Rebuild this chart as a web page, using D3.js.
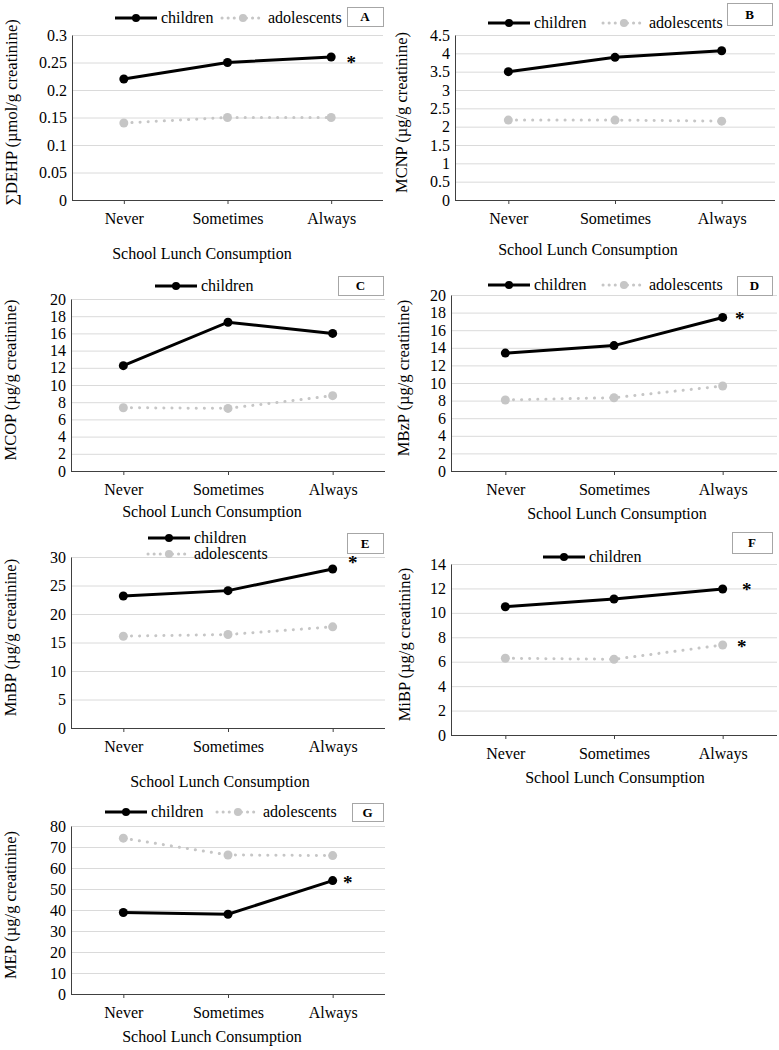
<!DOCTYPE html>
<html>
<head>
<meta charset="utf-8">
<script src="https://cdn.jsdelivr.net/npm/d3@7"></script>
<style>
  body { margin: 0; background: #fff; }
  text { font-family: "Liberation Serif", "Times New Roman", serif; fill: #000; }
</style>
</head>
<body>
<script>
var w = 779;
var h = 1050;

// data
var categories = ["Never", "Sometimes", "Always"];

var dehpChildren = [0.22, 0.25, 0.26];
var dehpAdolescents = [0.14, 0.15, 0.15];
var dehpTicks = [0, 0.05, 0.1, 0.15, 0.2, 0.25, 0.3];
var dehpStars = [0.256];

var mcnpChildren = [3.5, 3.89, 4.07];
var mcnpAdolescents = [2.18, 2.18, 2.15];
var mcnpTicks = [0, 0.5, 1, 1.5, 2, 2.5, 3, 3.5, 4, 4.5];
var mcnpStars = [];

var mcopChildren = [12.25, 17.3, 16.0];
var mcopAdolescents = [7.36, 7.28, 8.76];
var mcopTicks = [0, 2, 4, 6, 8, 10, 12, 14, 16, 18, 20];
var mcopStars = [];

var mbzpChildren = [13.4, 14.25, 17.45];
var mbzpAdolescents = [8.07, 8.33, 9.66];
var mbzpTicks = [0, 2, 4, 6, 8, 10, 12, 14, 16, 18, 20];
var mbzpStars = [17.7];

var mnbpChildren = [23.15, 24.1, 27.9];
var mnbpAdolescents = [16.1, 16.4, 17.75];
var mnbpTicks = [0, 5, 10, 15, 20, 25, 30];
var mnbpStars = [29.5];

var mibpChildren = [10.5, 11.13, 11.95];
var mibpAdolescents = [6.28, 6.2, 7.37];
var mibpTicks = [0, 2, 4, 6, 8, 10, 12, 14];
var mibpStars = [12.14, 7.5];

var mepChildren = [38.8, 38.0, 54.0];
var mepAdolescents = [74.2, 66.2, 65.9];
var mepTicks = [0, 10, 20, 30, 40, 50, 60, 70, 80];
var mepStars = [54.3];

// layout of each panel
var panels = [
  { letter: "A", title: "\u2211DEHP (\u00b5mol/g creatinine)", kids: dehpChildren, teens: dehpAdolescents, ticks: dehpTicks, stars: dehpStars,
    x0: 72, x1: 383, y0: 35, y1: 200, titleX: 17, xTitleX: 202, xTitleGap: 59, starDx: 20,
    legend: [{ s: "k", x: 115, y: 18 }, { s: "t", x: 222, y: 18 }], box: [347, 7, 36, 19] },
  { letter: "B", title: "MCNP (\u00b5g/g creatinine)", kids: mcnpChildren, teens: mcnpAdolescents, ticks: mcnpTicks, stars: mcnpStars,
    x0: 455, x1: 775, y0: 35, y1: 200, titleX: 407, xTitleX: 588, xTitleGap: 55, starDx: 20,
    legend: [{ s: "k", x: 488, y: 23 }, { s: "t", x: 603, y: 23 }], box: [727, 3, 45, 22] },
  { letter: "C", title: "MCOP (\u00b5g/g creatinine)", kids: mcopChildren, teens: mcopAdolescents, ticks: mcopTicks, stars: mcopStars,
    x0: 71, x1: 385, y0: 299, y1: 471, titleX: 16, xTitleX: 212, xTitleGap: 46, starDx: 20,
    legend: [{ s: "k", x: 155, y: 286 }], box: [338, 276, 45, 19] },
  { letter: "D", title: "MBzP (\u00b5g/g creatinine)", kids: mbzpChildren, teens: mbzpAdolescents, ticks: mbzpTicks, stars: mbzpStars,
    x0: 451, x1: 777, y0: 295, y1: 471, titleX: 409, xTitleX: 617, xTitleGap: 48, starDx: 17,
    legend: [{ s: "k", x: 488, y: 285 }, { s: "t", x: 603, y: 285 }], box: [737, 276, 35, 19] },
  { letter: "E", title: "MnBP (\u00b5g/g creatinine)", kids: mnbpChildren, teens: mnbpAdolescents, ticks: mnbpTicks, stars: mnbpStars,
    x0: 71, x1: 385, y0: 557, y1: 728, titleX: 16, xTitleX: 220, xTitleGap: 59, starDx: 20,
    legend: [{ s: "k", x: 148, y: 538 }, { s: "t", x: 148, y: 554 }], box: [347, 533, 36, 20] },
  { letter: "F", title: "MiBP (\u00b5g/g creatinine)", kids: mibpChildren, teens: mibpAdolescents, ticks: mibpTicks, stars: mibpStars,
    x0: 451, x1: 777, y0: 564, y1: 735, titleX: 410, xTitleX: 615, xTitleGap: 48, starDx: [24, 19],
    legend: [{ s: "k", x: 543, y: 557 }], box: [732, 532, 40, 21] },
  { letter: "G", title: "MEP (\u00b5g/g creatinine)", kids: mepChildren, teens: mepAdolescents, ticks: mepTicks, stars: mepStars,
    x0: 71, x1: 385, y0: 826, y1: 994, titleX: 16, xTitleX: 212, xTitleGap: 48, starDx: 15,
    legend: [{ s: "k", x: 105, y: 812 }, { s: "t", x: 217, y: 812 }], box: [352, 803, 31, 18] }
];

var kidColor = "#000";
var teenColor = "#c6c6c6";
var serif = "Liberation Serif, Times New Roman, serif";

var svg = d3.select("body").append("svg")
            .attr("width", w)
            .attr("height", h);

panels.forEach(function(p) {
  var g = svg.append("g");
  var x = d3.scalePoint().domain(categories).range([p.x0, p.x1]).padding(0.5);
  var y = d3.scaleLinear()
            .domain([0, p.ticks[p.ticks.length - 1]])
            .range([p.y1, p.y0]);

  // gridlines
  g.append("g")
   .attr("transform", "translate(" + p.x0 + ",0)")
   .call(d3.axisLeft(y).tickValues(p.ticks.slice(1)).tickSize(-(p.x1 - p.x0)).tickFormat(""))
   .call(function(a) { a.select(".domain").remove(); })
   .selectAll("line").attr("stroke", "#dadada");

  // y axis
  var ya = g.append("g")
   .attr("transform", "translate(" + p.x0 + ",0)")
   .call(d3.axisLeft(y).tickValues(p.ticks).tickSize(0).tickPadding(5).tickFormat(function(d) { return d; }))
   .attr("font-family", serif)
   .attr("font-size", 16);
  ya.select(".domain").attr("stroke", "#404040");

  // x axis
  var xa = g.append("g")
   .attr("transform", "translate(0," + p.y1 + ")")
   .call(d3.axisBottom(x).tickSize(4).tickPadding(9).tickSizeOuter(0))
   .attr("font-family", serif)
   .attr("font-size", 16);
  xa.select(".domain").attr("stroke", "#404040").attr("d", "M" + p.x0 + ",0.5H" + p.x1);
  xa.selectAll("line").attr("stroke", "#404040");

  // axis titles
  g.append("text")
   .attr("x", p.xTitleX)
   .attr("y", p.y1 + p.xTitleGap)
   .attr("text-anchor", "middle")
   .style("font-size", "16px")
   .text("School Lunch Consumption");

  g.append("text")
   .attr("transform", "translate(" + p.titleX + "," + ((p.y0 + p.y1) / 2 - 5) + ") rotate(-90)")
   .attr("text-anchor", "middle")
   .style("font-size", "16.5px")
   .text(p.title);

  // lines
  var line = d3.line()
               .x(function(d, i) { return x(categories[i]); })
               .y(function(d) { return y(d); });

  g.append("path")
   .attr("d", line(p.teens))
   .attr("fill", "none")
   .attr("stroke", teenColor)
   .attr("stroke-width", 3)
   .attr("stroke-linecap", "round")
   .attr("stroke-dasharray", "0.1 8");
  g.selectAll(".teen").data(p.teens).enter().append("circle")
   .attr("cx", function(d, i) { return x(categories[i]); })
   .attr("cy", function(d) { return y(d); })
   .attr("r", 4.5)
   .attr("fill", teenColor);

  g.append("path")
   .attr("d", line(p.kids))
   .attr("fill", "none")
   .attr("stroke", kidColor)
   .attr("stroke-width", 3);
  g.selectAll(".kid").data(p.kids).enter().append("circle")
   .attr("cx", function(d, i) { return x(categories[i]); })
   .attr("cy", function(d) { return y(d); })
   .attr("r", 4.5)
   .attr("fill", kidColor);

  // significance marks
  p.stars.forEach(function(v, i) {
    var dx = Array.isArray(p.starDx) ? p.starDx[i] : p.starDx;
    g.append("text")
     .attr("x", x("Always") + dx)
     .attr("y", y(v))
     .attr("dy", "0.5em")
     .attr("text-anchor", "middle")
     .style("font-size", "19px")
     .style("font-weight", "bold")
     .text("*");
  });

  // legend
  p.legend.forEach(function(l) {
    var kid = l.s === "k";
    var c = kid ? kidColor : teenColor;
    var seg = g.append("line")
     .attr("x1", l.x).attr("x2", l.x + 42)
     .attr("y1", l.y).attr("y2", l.y)
     .attr("stroke", c)
     .attr("stroke-width", 3);
    if (!kid) seg.attr("stroke-linecap", "round").attr("stroke-dasharray", "0.1 6");
    g.append("circle")
     .attr("cx", l.x + 21).attr("cy", l.y)
     .attr("r", 4)
     .attr("fill", c);
    g.append("text")
     .attr("x", l.x + 46)
     .attr("y", l.y)
     .attr("dy", "0.32em")
     .style("font-size", "16px")
     .text(kid ? "children" : "adolescents");
  });

  // panel letter box
  g.append("rect")
   .attr("x", p.box[0] + 0.5).attr("y", p.box[1] + 0.5)
   .attr("width", p.box[2]).attr("height", p.box[3])
   .attr("fill", "#fff")
   .attr("stroke", "#a6a6a6");
  g.append("text")
   .attr("x", p.box[0] + p.box[2] / 2)
   .attr("y", p.box[1] + p.box[3] / 2)
   .attr("dy", "0.35em")
   .attr("text-anchor", "middle")
   .style("font-size", "13px")
   .style("font-weight", "bold")
   .text(p.letter);
});
</script>
</body>
</html>
